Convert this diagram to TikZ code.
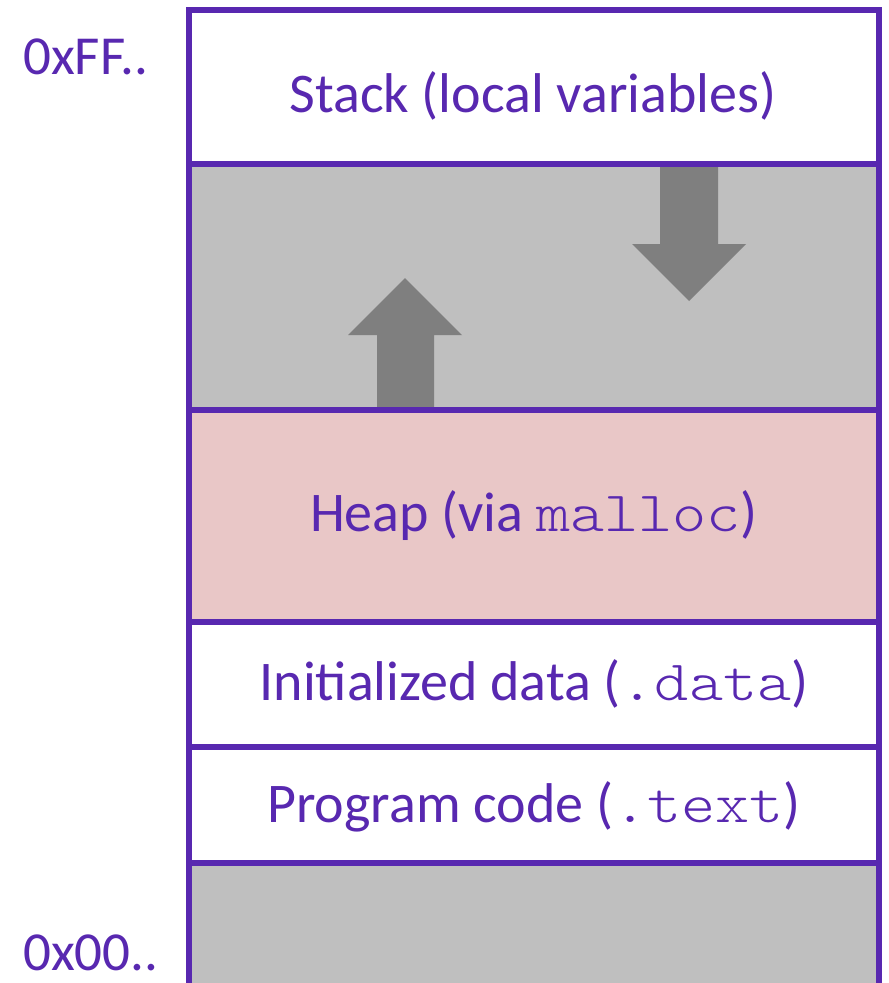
\documentclass[tikz,border=0pt]{standalone}
\usepackage{fontspec}
\setmainfont{Carlito}
\newfontfamily\codefont[FakeStretch=1.14]{Latin Modern Mono Light}
\definecolor{memline}{RGB}{88,40,176}
\definecolor{gapgray}{RGB}{191,191,191}
\definecolor{growgray}{RGB}{127,127,127}
\definecolor{heappink}{RGB}{233,199,199}
\tikzset{
  segfill/.style={draw=none},
  segline/.style={draw=memline, line width=6pt},
  growarrow/.style={fill=growgray, draw=none},
  seglabel/.style={text=memline, anchor=base, inner sep=0pt,
    font=\fontsize{56}{60}\selectfont},
  addrlabel/.style={text=memline, anchor=base west, inner sep=0pt,
    font=\fontsize{55}{60}\selectfont},
}
\newcommand{\code}[1]{{\codefont\fontsize{57}{60}\selectfont #1}}
\begin{document}
\begin{tikzpicture}[x=1pt, y=-1pt]
\useasboundingbox (0,0) rectangle (889,983);

% segment backgrounds
\fill[segfill, white]    (189,9.5) rectangle (879,164);
\fill[segfill, gapgray]  (189,164) rectangle (879,410);
\fill[segfill, heappink] (189,410) rectangle (879,622);
\fill[segfill, white]    (189,622) rectangle (879,747);
\fill[segfill, white]    (189,747) rectangle (879,863);
\fill[segfill, gapgray]  (189,863) rectangle (879,995);

% growth arrows: heap grows up, stack grows down
\fill[growarrow] (377,410) -- (377,335) -- (348,335) -- (405,278)
  -- (462,335) -- (434,335) -- (434,410) -- cycle;
\fill[growarrow] (660,164) -- (660,244) -- (632,244) -- (689,301)
  -- (746,244) -- (718,244) -- (718,164) -- cycle;

% segment boundaries
\draw[segline] (189,1000) -- (189,9.5) -- (879,9.5) -- (879,1000);
\draw[segline] (189,164) -- (879,164);
\draw[segline] (189,410) -- (879,410);
\draw[segline] (189,622) -- (879,622);
\draw[segline] (189,747) -- (879,747);
\draw[segline] (189,863) -- (879,863);

% segment names
\node[seglabel] (stack) at (533,112) {Stack (local variables)};
\node[seglabel] (heap)  at (534,531) {Heap (via \code{malloc})};
\node[seglabel] (data)  at (534,700) {Initialized data (\code{.data})};
\node[seglabel] (text)  at (534,822) {Program code (\code{.text})};

% address labels
\node[addrlabel] (hi) at (23,74.5) {0xFF..};
\node[addrlabel] (lo) at (23,970) {0x00..};
\end{tikzpicture}
\end{document}
